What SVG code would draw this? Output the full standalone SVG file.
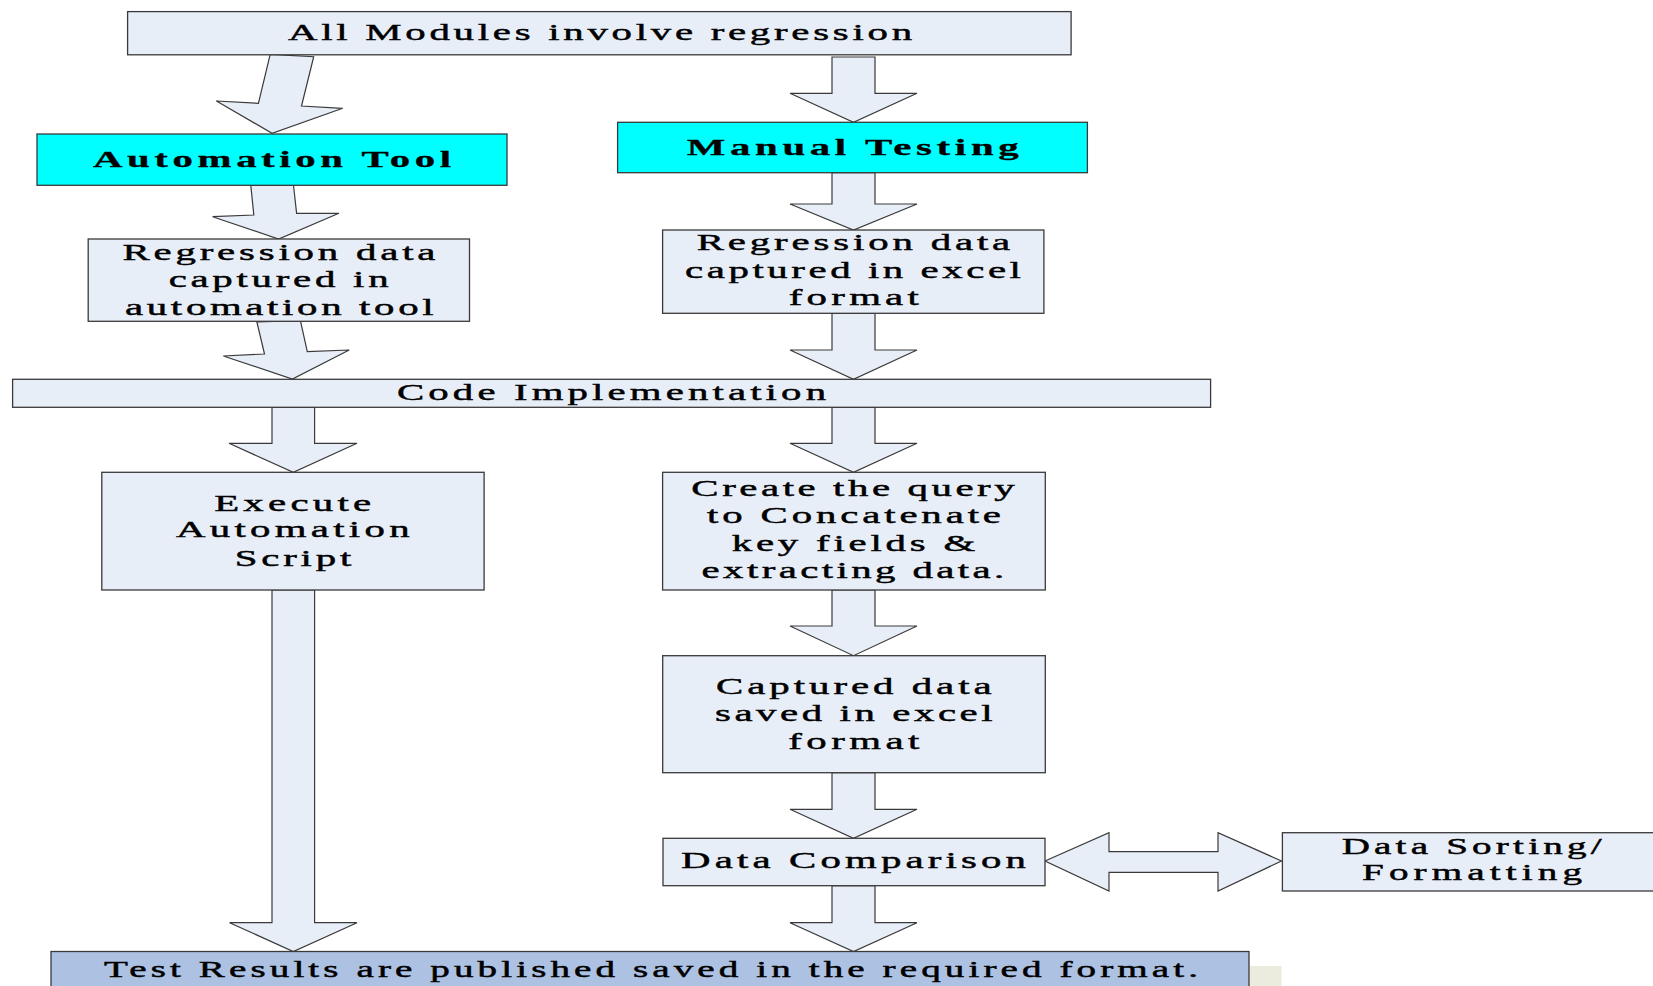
<svg xmlns="http://www.w3.org/2000/svg" width="1653" height="986" viewBox="0 0 1653 986">
<style>
.box{fill:#e8eef8;stroke:#3a3a3a;stroke-width:1.3}
.cyan{fill:#00ffff;stroke:#3a3a3a;stroke-width:1.3}
.res{fill:#adc1e2;stroke:#3a3a3a;stroke-width:1.3}
.arr{fill:#e8eef8;stroke:#3a3a3a;stroke-width:1.2;stroke-linejoin:miter}
.t{font-family:"Liberation Serif","Times New Roman",serif;font-size:24px;fill:#000;stroke:#000;stroke-width:0.45;text-anchor:middle}
.b{font-weight:bold;stroke-width:0.3}
.s{font-size:23px}
</style>
<rect x="0" y="0" width="1653" height="986" fill="#ffffff"/>
<rect x="1249.5" y="966" width="32" height="20" fill="#ebebde"/>

<g id="connectors">
  <polygon class="arr" points="270.2,54.3 313.7,56.7 301.5,106 342.7,108.3 272.1,133.3 216.4,101 258.4,103.3"/>
  <polygon class="arr" points="250.8,185.3 293.5,185.3 296.6,213.3 338.9,213.3 278.6,239 212.6,216.7 253.8,215"/>
  <polygon class="arr" points="256.9,322 300.4,320.7 307.3,351.7 349.2,350 292.4,379 223.3,356 264.5,354"/>
  <polygon class="arr" points="272,407.3 314.6,407.3 314.6,443.3 357,443.3 293.3,472.3 229,443.3 272,443.3"/>
  <polygon class="arr" points="272,590 314.6,590 314.6,922.7 357,922.7 293.3,951.5 229.6,922.7 272,922.7"/>
  <polygon class="arr" points="832,57 875,57 875,93.3 917,93.3 853.5,122.3 790,93.3 832,93.3"/>
  <polygon class="arr" points="832,172.7 875,172.7 875,204 917,204 853.5,230 790,204 832,204"/>
  <polygon class="arr" points="832,313.3 875,313.3 875,350 917,350 853.5,379.3 790,350 832,350"/>
  <polygon class="arr" points="832,407.3 875,407.3 875,443.3 917,443.3 853.5,472.3 790,443.3 832,443.3"/>
  <polygon class="arr" points="832,590 875,590 875,626 917,626 853.5,655.7 790,626 832,626"/>
  <polygon class="arr" points="832,772.7 875,772.7 875,809.3 917,809.3 853.5,838.3 790,809.3 832,809.3"/>
  <polygon class="arr" points="832,885.7 875,885.7 875,922.7 917,922.7 853.5,951.5 790,922.7 832,922.7"/>
  <polygon class="arr" points="1045,861 1109,832.7 1109,851.7 1218,851.7 1218,832.7 1281.5,861 1218,891 1218,872.3 1109,872.3 1109,891"/>
</g>

<g id="top">
  <rect class="box" x="127.6" y="11.6" width="943.5" height="43.2"/>
  <text class="t" transform="translate(600,40) scale(1.7,1)" textLength="367.1" lengthAdjust="spacing">All Modules involve regression</text>
</g>

<g id="automation">
  <rect class="cyan" x="37" y="134" width="470" height="51.3"/>
  <text class="t b" transform="translate(272,166.7) scale(1.7,1)" textLength="210.6" lengthAdjust="spacing">Automation Tool</text>
</g>

<g id="manual">
  <rect class="cyan" x="617.6" y="122.3" width="469.8" height="50.4"/>
  <text class="t b" transform="translate(852.7,155) scale(1.7,1)" textLength="195.3" lengthAdjust="spacing">Manual Testing</text>
</g>

<g id="regression-auto">
  <rect class="box" x="88.2" y="239" width="381.3" height="82.3"/>
  <text class="t" transform="translate(279,260) scale(1.7,1)" textLength="184.1" lengthAdjust="spacing">Regression data</text>
  <text class="t" transform="translate(278.6,287.3) scale(1.7,1)" textLength="129.4" lengthAdjust="spacing">captured in</text>
  <text class="t" transform="translate(279.3,315) scale(1.7,1)" textLength="181.5" lengthAdjust="spacing">automation tool</text>
</g>

<g id="regression-excel">
  <rect class="box" x="662.6" y="230" width="381.3" height="83.3"/>
  <text class="t" transform="translate(853.5,250) scale(1.7,1)" textLength="184.4" lengthAdjust="spacing">Regression data</text>
  <text class="t" transform="translate(853,278.3) scale(1.7,1)" textLength="197.6" lengthAdjust="spacing">captured in excel</text>
  <text class="t" transform="translate(853.8,305) scale(1.7,1)" textLength="76.5" lengthAdjust="spacing">format</text>
</g>

<g id="code">
  <rect class="box" x="12.6" y="379.3" width="1198" height="28"/>
  <text class="t" transform="translate(611.5,400) scale(1.7,1)" textLength="252.4" lengthAdjust="spacing">Code Implementation</text>
</g>

<g id="execute">
  <rect class="box" x="101.8" y="472.3" width="382.3" height="117.7"/>
  <text class="t" transform="translate(292.7,510.7) scale(1.7,1)" textLength="92.4" lengthAdjust="spacing">Execute</text>
  <text class="t" transform="translate(292.8,537.3) scale(1.7,1)" textLength="137.4" lengthAdjust="spacing">Automation</text>
  <text class="t" transform="translate(293,565.7) scale(1.7,1)" textLength="68.6" lengthAdjust="spacing">Script</text>
</g>

<g id="query">
  <rect class="box" x="662.6" y="472.3" width="382.7" height="117.7"/>
  <text class="t" transform="translate(853,496) scale(1.7,1)" textLength="190.2" lengthAdjust="spacing">Create the query</text>
  <text class="t" transform="translate(854,523.3) scale(1.7,1)" textLength="172.9" lengthAdjust="spacing">to Concatenate</text>
  <text class="t" transform="translate(853.5,550.7) scale(1.7,1)" textLength="143.2" lengthAdjust="spacing">key fields &amp;</text>
  <text class="t" transform="translate(852.9,578.3) scale(1.7,1)" textLength="178" lengthAdjust="spacing">extracting data.</text>
</g>

<g id="captured">
  <rect class="box" x="662.7" y="655.7" width="382.6" height="117"/>
  <text class="t" transform="translate(853.8,694.3) scale(1.7,1)" textLength="162.2" lengthAdjust="spacing">Captured data</text>
  <text class="t" transform="translate(853.8,721) scale(1.7,1)" textLength="163.4" lengthAdjust="spacing">saved in excel</text>
  <text class="t" transform="translate(853.8,749) scale(1.7,1)" textLength="77.1" lengthAdjust="spacing">format</text>
</g>

<g id="comparison">
  <rect class="box" x="663" y="838.3" width="382" height="47.4"/>
  <text class="t" transform="translate(853.5,868.3) scale(1.7,1)" textLength="202.9" lengthAdjust="spacing">Data Comparison</text>
</g>

<g id="sorting">
  <rect class="box" x="1282.4" y="832.7" width="380" height="58.3"/>
  <text class="t s" transform="translate(1471.6,854.3) scale(1.7,1)" textLength="152.9" lengthAdjust="spacing">Data Sorting/</text>
  <text class="t s" transform="translate(1472,880) scale(1.7,1)" textLength="129.4" lengthAdjust="spacing">Formatting</text>
</g>

<g id="results">
  <rect class="res" x="51" y="951.5" width="1198" height="45"/>
  <text class="t s" transform="translate(651,977) scale(1.7,1)" textLength="643.5" lengthAdjust="spacing">Test Results are published saved in the required format.</text>
</g>
</svg>
